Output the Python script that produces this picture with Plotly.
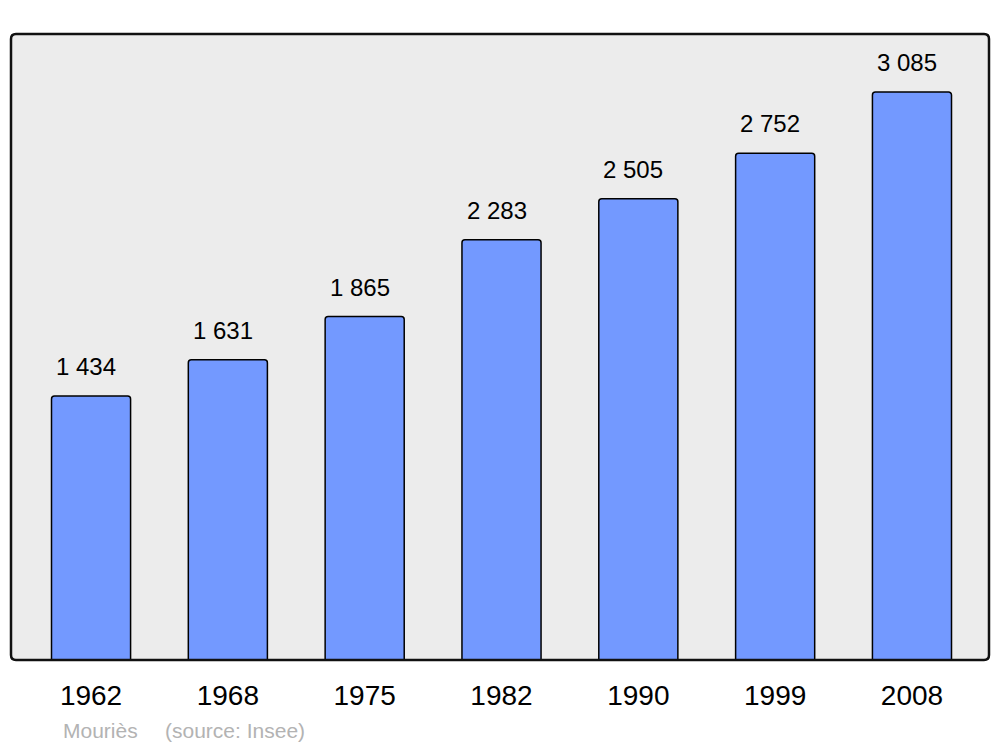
import plotly.graph_objects as go

years = ["1962", "1968", "1975", "1982", "1990", "1999", "2008"]
population = [1434, 1631, 1865, 2283, 2505, 2752, 3085]
value_labels = ["1 434", "1 631", "1 865", "2 283", "2 505", "2 752", "3 085"]
commune = "Mouriès"
source = "(source: Insee)"

W, H = 1000, 747
ml, mr, mt, mb = 11, 11, 34, 87

fig = go.Figure()
fig.add_trace(go.Bar(
    x=years, y=population, width=0.578,
    marker=dict(color="#7399ff", line=dict(color="#000000", width=1.5), cornerradius=3),
    hoverinfo="skip",
))

for i, (v, lab) in enumerate(zip(population, value_labels)):
    fig.add_annotation(x=i, y=v, text=lab, showarrow=False, yanchor="bottom",
                       yshift=14, xshift=-5,
                       font=dict(family="Liberation Sans, Arial", size=24, color="#000000"))

pw, ph = W - ml - mr, H - mt - mb
fig.add_annotation(xref="paper", yref="paper", x=(61 - ml) / pw, y=-(730 - 660) / ph,
                   xanchor="left", yanchor="middle", text=commune, showarrow=False,
                   font=dict(family="Liberation Sans, Arial", size=21, color="#b3b3b3"))
fig.add_annotation(xref="paper", yref="paper", x=(163 - ml) / pw, y=-(730 - 660) / ph,
                   xanchor="left", yanchor="middle", text=source, showarrow=False,
                   font=dict(family="Liberation Sans, Arial", size=21, color="#b3b3b3"))

# rounded frame around plot area
rx, ry = 5 / pw, 5 / ph
path = (f"M {rx},0 L {1-rx},0 Q 1,0 1,{ry} L 1,{1-ry} Q 1,1 {1-rx},1 "
        f"L {rx},1 Q 0,1 0,{1-ry} L 0,{ry} Q 0,0 {rx},0 Z")
fig.add_shape(type="path", xref="paper", yref="paper", path=path,
              line=dict(color="#111111", width=2.5), layer="above")

fig.update_layout(
    width=W, height=H,
    margin=dict(l=ml, r=mr, t=mt, b=mb),
    paper_bgcolor="#ffffff", plot_bgcolor="#ececec",
    showlegend=False,
    xaxis=dict(range=[-0.585, 6.563], showgrid=False, zeroline=False, showline=False,
               ticks="outside", ticklen=10, tickcolor="rgba(0,0,0,0)",
               tickfont=dict(family="Liberation Sans, Arial", size=28, color="#000000")),
    yaxis=dict(range=[0, 3400], showgrid=False, zeroline=False, showline=False,
               showticklabels=False, ticks=""),
)

fig.write_html("out.html", config={"displayModeBar": False},
               post_script="document.body.style.margin='0';document.body.style.overflow='hidden';")
